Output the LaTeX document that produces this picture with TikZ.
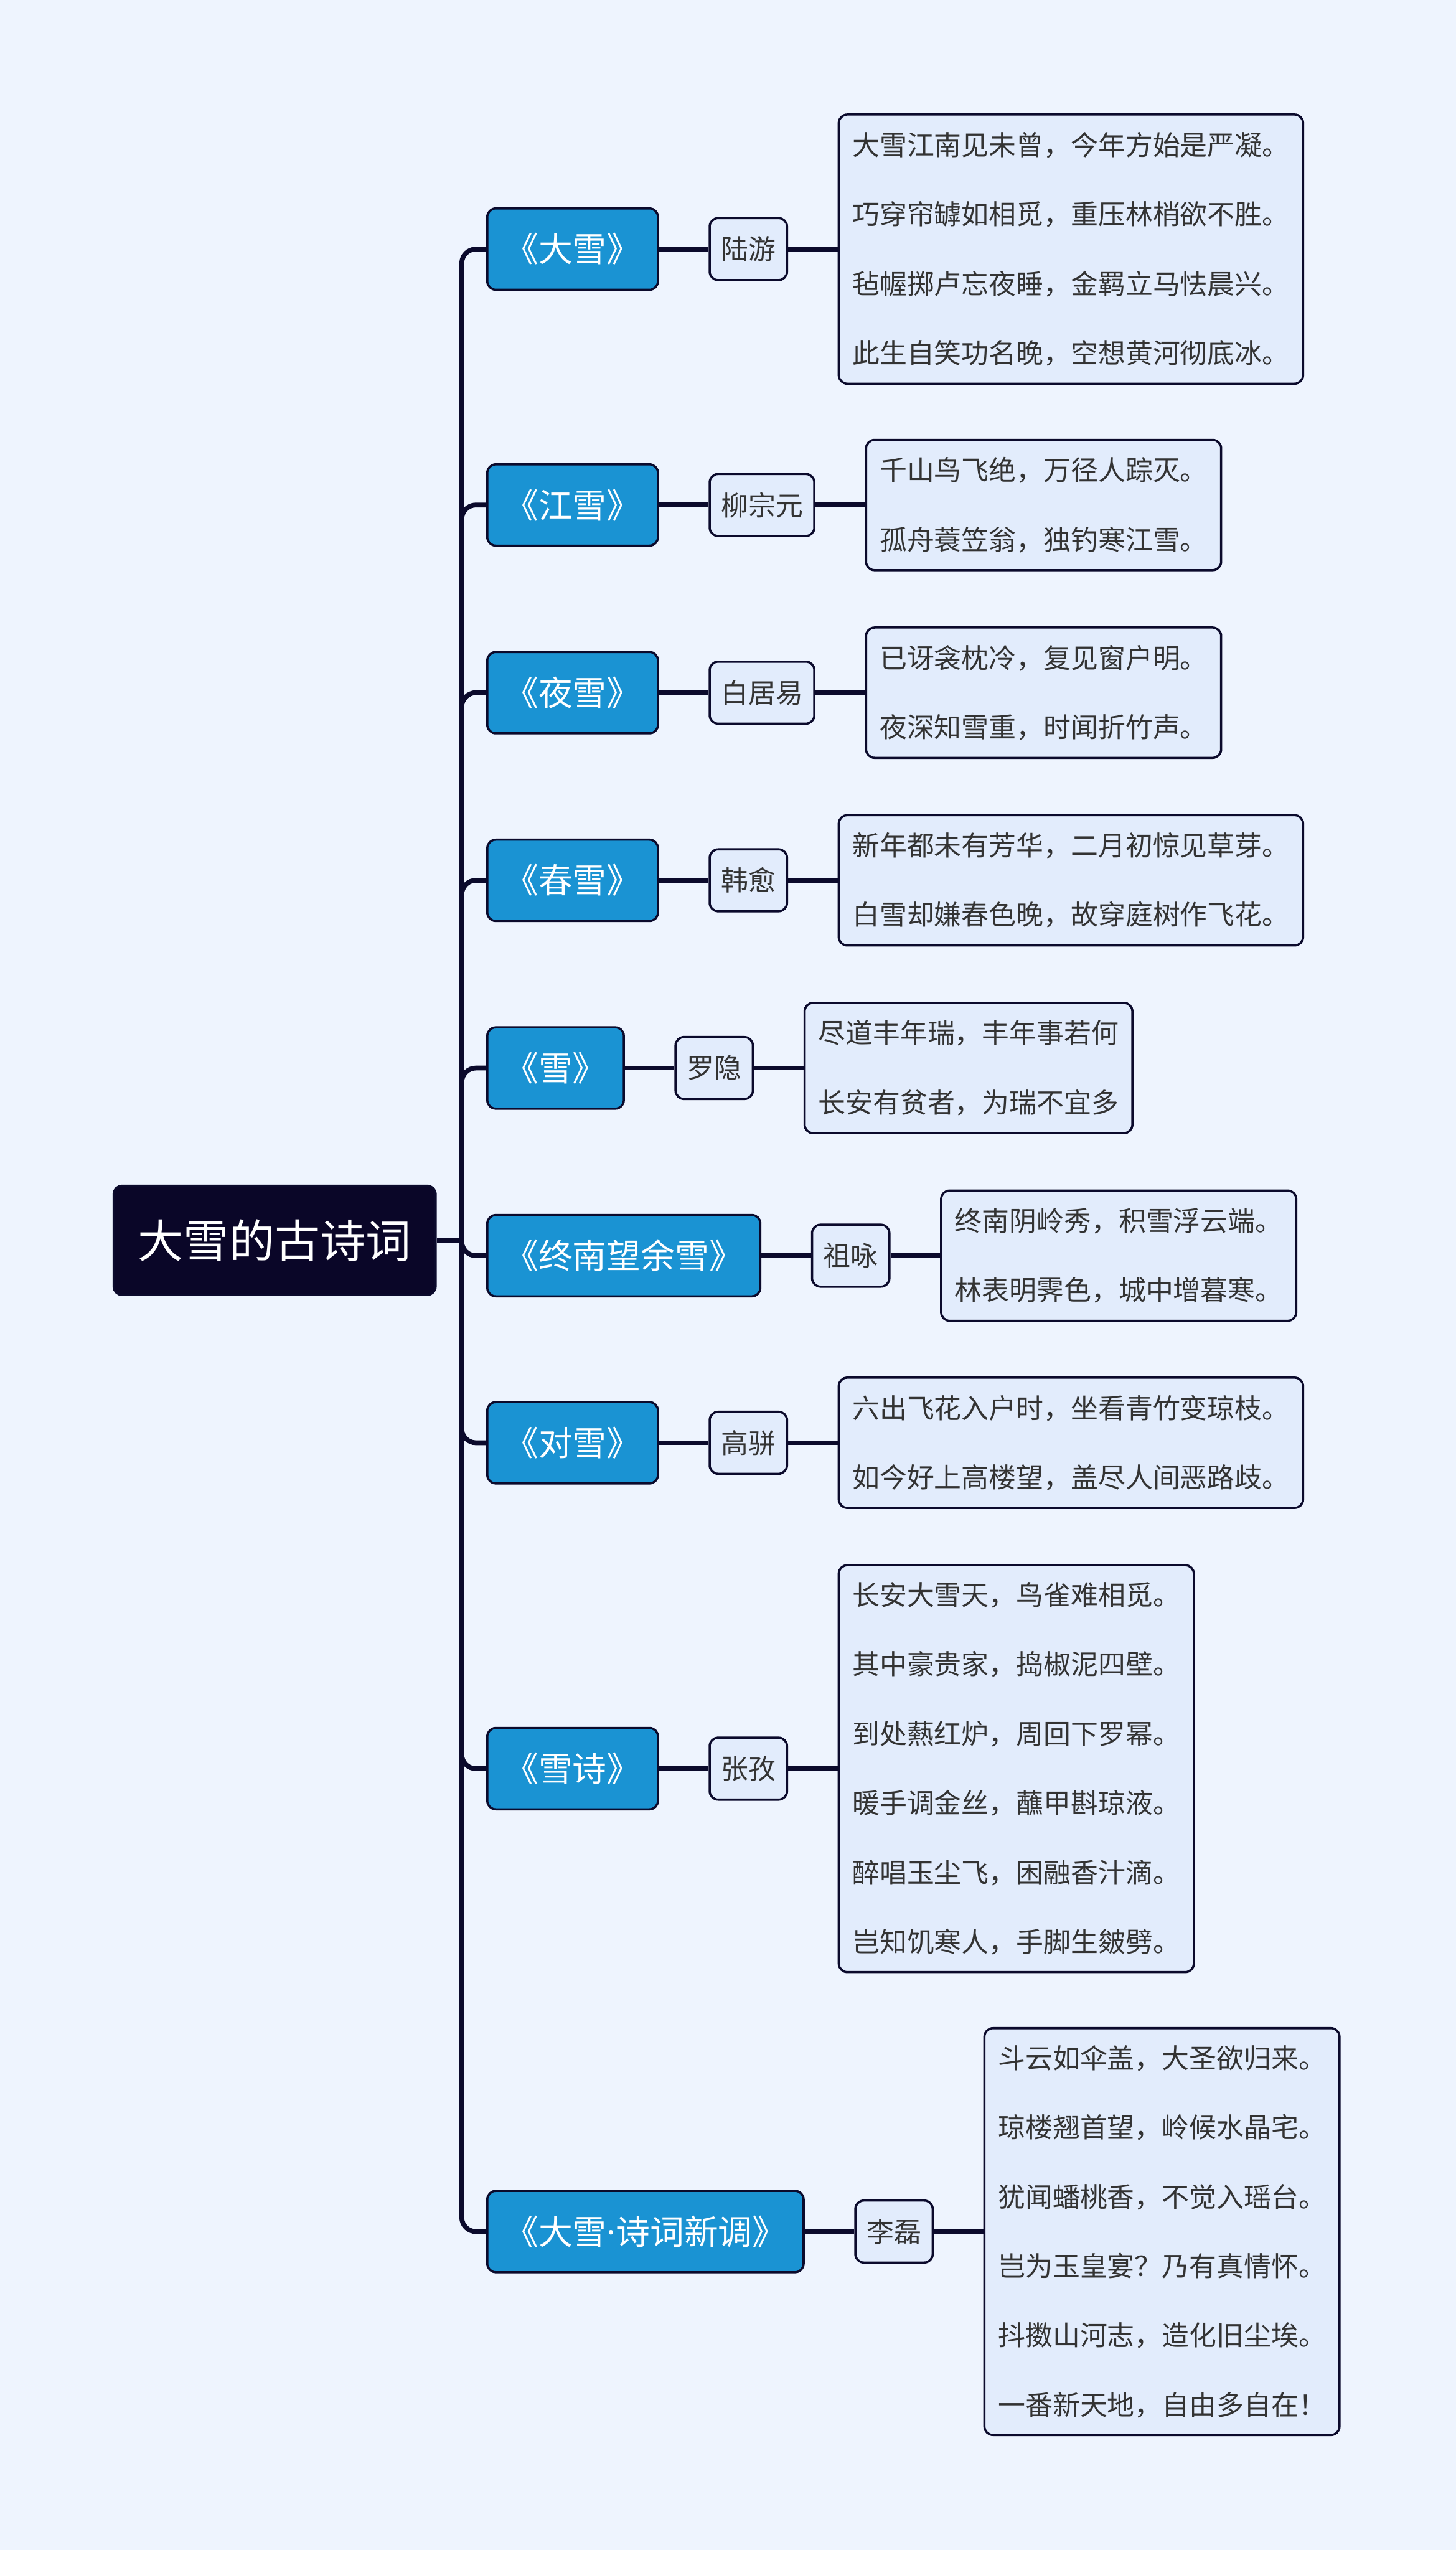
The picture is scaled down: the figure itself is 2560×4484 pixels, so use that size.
\documentclass[tikz,border=0pt]{standalone}
\usepackage{fontspec}
\setmainfont{Noto Sans CJK SC}
\newfontfamily\latinfont{Noto Sans}
\usetikzlibrary{positioning}
\definecolor{paper}{HTML}{EEF4FE}
\definecolor{ink}{HTML}{0B0A2C}
\definecolor{rootfill}{HTML}{0A0628}
\definecolor{titlefill}{HTML}{1A93D3}
\definecolor{poemfill}{HTML}{E2ECFC}
\definecolor{verse}{HTML}{333333}
\begin{document}
\begin{tikzpicture}[x=0.01cm,y=-0.01cm,node distance=0.87cm,
  box/.style={draw=ink,line width=1.1pt,rounded corners=0.15cm},
  rootbox/.style={box,fill=rootfill,text=white,inner xsep=0.43cm,minimum height=1.92cm,
    font=\fontsize{22.76pt}{27pt}\selectfont},
  titlebox/.style={box,fill=titlefill,text=white,anchor=west,inner xsep=0.3cm,minimum height=1.43cm,
    font=\fontsize{17.07pt}{20pt}\selectfont},
  poetbox/.style={box,fill=poemfill,text=verse,inner xsep=0.2cm,minimum height=1.09cm,
    font=\fontsize{13.66pt}{16pt}\selectfont},
  poembox/.style={box,fill=poemfill,text=verse,align=left,inner xsep=0.24cm,inner ysep=0.1cm,
    minimum height=#1,font=\fontsize{13.66pt}{34.7pt}\selectfont},
  link/.style={draw=ink,line width=2.4pt},
  trunk/.style={link,rounded corners=0.25cm}]
 \fill[paper] (0,0) rectangle (2560,4484);
 \node[rootbox] (root) at (483,2181) {大雪的古诗词};
 \coordinate (hub) at (812,2181);
 % titles sit on one left edge; the poet and the poem follow to the right
 \node[titlebox] (t1) at (855,438) {《大雪》};
 \node[titlebox] (t2) at (855,888) {《江雪》};
 \node[titlebox] (t3) at (855,1218) {《夜雪》};
 \node[titlebox] (t4) at (855,1548) {《春雪》};
 \node[titlebox] (t5) at (855,1878) {《雪》};
 \node[titlebox] (t6) at (855,2208) {《终南望余雪》};
 \node[titlebox] (t7) at (855,2537) {《对雪》};
 \node[titlebox] (t8) at (855,3110) {《雪诗》};
 \node[titlebox] (t9) at (855,3924) {《大雪{\latinfont ·}诗词新调》};
 \node[poetbox,right=of t1] (a1) {陆游};
 \node[poetbox,right=of t2] (a2) {柳宗元};
 \node[poetbox,right=of t3] (a3) {白居易};
 \node[poetbox,right=of t4] (a4) {韩愈};
 \node[poetbox,right=of t5] (a5) {罗隐};
 \node[poetbox,right=of t6] (a6) {祖咏};
 \node[poetbox,right=of t7] (a7) {高骈};
 \node[poetbox,right=of t8] (a8) {张孜};
 \node[poetbox,right=of t9] (a9) {李磊};
 \node[poembox=4.73cm,right=of a1] (v1) {大雪江南见未曾，今年方始是严凝。\\巧穿帘罅如相觅，重压林梢欲不胜。\\毡幄掷卢忘夜睡，金羁立马怯晨兴。\\此生自笑功名晚，空想黄河彻底冰。};
 \node[poembox=2.29cm,right=of a2] (v2) {千山鸟飞绝，万径人踪灭。\\孤舟蓑笠翁，独钓寒江雪。};
 \node[poembox=2.29cm,right=of a3] (v3) {已讶衾枕冷，复见窗户明。\\夜深知雪重，时闻折竹声。};
 \node[poembox=2.29cm,right=of a4] (v4) {新年都未有芳华，二月初惊见草芽。\\白雪却嫌春色晚，故穿庭树作飞花。};
 \node[poembox=2.29cm,right=of a5] (v5) {尽道丰年瑞，丰年事若何\\长安有贫者，为瑞不宜多};
 \node[poembox=2.29cm,right=of a6] (v6) {终南阴岭秀，积雪浮云端。\\林表明霁色，城中增暮寒。};
 \node[poembox=2.29cm,right=of a7] (v7) {六出飞花入户时，坐看青竹变琼枝。\\如今好上高楼望，盖尽人间恶路歧。};
 \node[poembox=7.15cm,right=of a8] (v8) {长安大雪天，鸟雀难相觅。\\其中豪贵家，捣椒泥四壁。\\到处爇红炉，周回下罗幂。\\暖手调金丝，蘸甲斟琼液。\\醉唱玉尘飞，困融香汁滴。\\岂知饥寒人，手脚生皴劈。};
 \node[poembox=7.15cm,right=of a9] (v9) {斗云如伞盖，大圣欲归来。\\琼楼翘首望，岭候水晶宅。\\犹闻蟠桃香，不觉入瑶台。\\岂为玉皇宴？乃有真情怀。\\抖擞山河志，造化旧尘埃。\\一番新天地，自由多自在！};
 \draw[link] (root.east) -- (hub);
 \foreach \i in {1,...,9} {
   \draw[trunk] (hub) |- (t\i.west);
   \draw[link] (t\i) -- (a\i);
   \draw[link] (a\i) -- (v\i);
 }
\end{tikzpicture}
\end{document}
